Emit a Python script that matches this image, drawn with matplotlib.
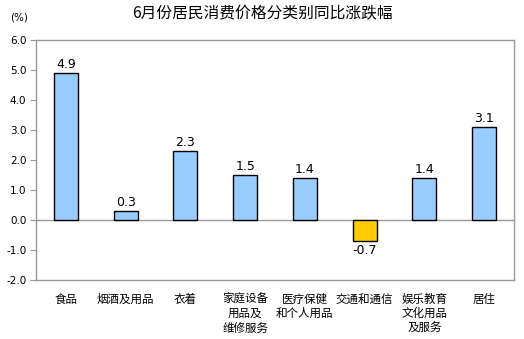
import numpy as np
import matplotlib.pyplot as plt

plt.rcParams['font.family'] = ['Noto Sans CJK SC', 'DejaVu Sans']

# category names and year-on-year change (%)
categories = ['食品', '烟酒及用品', '衣着', '家庭设备\n用品及\n维修服务',
              '医疗保健\n和个人用品', '交通和通信', '娱乐教育\n文化用品\n及服务', '居住']
values = [4.9, 0.3, 2.3, 1.5, 1.4, -0.7, 1.4, 3.1]
yticks = [-2.0, -1.0, 0.0, 1.0, 2.0, 3.0, 4.0, 5.0, 6.0]

fig = plt.figure(figsize=(5.24, 3.39), dpi=100)
ax = fig.add_axes([36 / 524, 1 - 280 / 339, 478 / 524, 240 / 339])

x = np.arange(len(categories))
colors = ['#99CCFF' if v >= 0 else '#FFCC00' for v in values]
ax.bar(x, values, width=0.4, color=colors, edgecolor='black', linewidth=1.0, zorder=3)

for xi, v in zip(x, values):
    if v >= 0:
        ax.text(xi, v + 0.08, f'{v:.1f}', ha='center', va='bottom', fontsize=9,
                family='DejaVu Sans')
    else:
        ax.text(xi, v - 0.1, f'{v:.1f}', ha='center', va='top', fontsize=9,
                family='DejaVu Sans')

ax.axhline(0, color='#999999', linewidth=1.0, zorder=2)
ax.set_xlim(-0.5, len(categories) - 0.5)
ax.set_ylim(-2, 6)
ax.set_yticks(yticks)
ax.set_yticklabels([f'{t:.1f}' for t in yticks], fontsize=7.5, family='DejaVu Sans')
ax.set_xticks(x)
ax.set_xticklabels(categories, fontsize=8.3, linespacing=1.15, va='top')
ax.tick_params(axis='x', length=0, pad=9)
ax.tick_params(axis='y', length=4, width=0.8, color='#999999', pad=3)

for s in ax.spines.values():
    s.set_color('#999999')
    s.set_linewidth(1.0)

fig.text(262 / 524, 1 - 14 / 339, '6月份居民消费价格分类别同比涨跌幅', ha='center', va='center',
         fontsize=11.3)
fig.text(10 / 524, 1 - 17 / 339, '(%)', ha='left', va='center', fontsize=7.5,
         family='DejaVu Sans')

fig.savefig('out.png', dpi=100)
